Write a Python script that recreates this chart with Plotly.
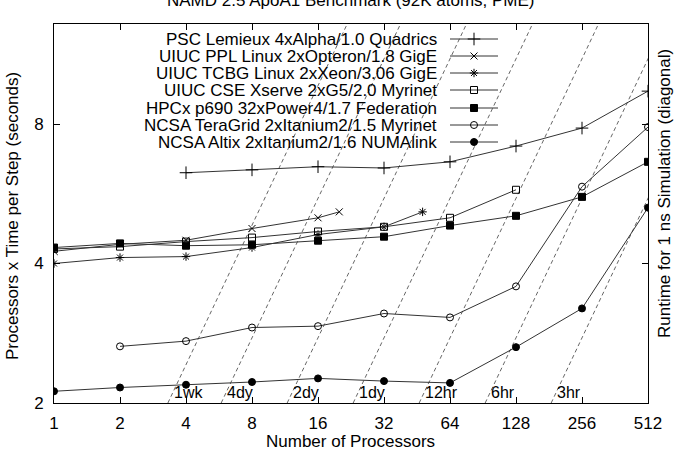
import math
import plotly.graph_objects as go

# ---------------- data ----------------
x_ticks = [1, 2, 4, 8, 16, 32, 64, 128, 256, 512]
y_ticks = [2, 4, 8]

names = [
    "PSC Lemieux 4xAlpha/1.0 Quadrics",
    "UIUC PPL Linux 2xOpteron/1.8 GigE",
    "UIUC TCBG Linux 2xXeon/3.06 GigE",
    "UIUC CSE Xserve 2xG5/2.0 Myrinet",
    "HPCx p690 32xPower4/1.7 Federation",
    "NCSA TeraGrid 2xItanium2/1.5 Myrinet",
    "NCSA Altix 2xItanium2/1.6 NUMAlink",
]

psc_p = [4, 8, 16, 32, 64, 128, 256, 512]
psc_v = [6.28, 6.37, 6.47, 6.43, 6.63, 7.17, 7.84, 9.42]

ppl_p = [1, 2, 4, 8, 16, 20]
ppl_v = [4.25, 4.40, 4.49, 4.76, 5.02, 5.17]

tcbg_p = [1, 2, 4, 8, 16, 32, 48]
tcbg_v = [4.00, 4.12, 4.14, 4.33, 4.62, 4.80, 5.17]

cse_p = [1, 2, 4, 8, 16, 32, 64, 128]
cse_v = [4.30, 4.35, 4.46, 4.55, 4.69, 4.80, 5.02, 5.77]

hpcx_p = [1, 2, 4, 8, 16, 32, 64, 128, 256, 512]
hpcx_v = [4.33, 4.42, 4.37, 4.39, 4.48, 4.57, 4.83, 5.07, 5.57, 6.63]

tg_p = [2, 4, 8, 16, 32, 64, 128, 256, 512]
tg_v = [2.65, 2.72, 2.91, 2.93, 3.12, 3.06, 3.57, 5.86, 7.88]

altix_p = [1, 2, 4, 8, 16, 32, 64, 128, 256, 512]
altix_v = [2.12, 2.16, 2.19, 2.22, 2.26, 2.23, 2.21, 2.64, 3.20, 5.28]

# diagonal runtime lines (runtime for 1 ns simulation, seconds)
diag_labels = ["1wk", "4dy", "2dy", "1dy", "12hr", "6hr", "3hr"]
diag_runtime_s = [604800, 345600, 172800, 86400, 43200, 21600, 10800]
steps_per_ns = 1_000_000

series = [
    (psc_p, psc_v, "cross-thin", 9, "black"),
    (ppl_p, ppl_v, "x-thin", 7, "black"),
    (tcbg_p, tcbg_v, "asterisk", 7, "black"),
    (cse_p, cse_v, "square-open", 7, "black"),
    (hpcx_p, hpcx_v, "square", 7, "black"),
    (tg_p, tg_v, "circle-open", 7, "black"),
    (altix_p, altix_v, "circle", 7, "black"),
]

FONT = "Liberation Sans, Arial, Helvetica, sans-serif"
LINE_COL = "#333333"

# plot-area geometry in pixels (used for decorations only)
PL, PR, PT, PB = 54, 648, 24, 403


def paper_x(px):
    return (px - PL) / (PR - PL)


def paper_y(py):
    return (PB - py) / (PB - PT)


fig = go.Figure()

# diagonal constant-runtime lines
y_lo, y_hi = 2.0, 14.0
for lab, T in zip(diag_labels, diag_runtime_s):
    p0 = y_lo * steps_per_ns / T
    p1 = y_hi * steps_per_ns / T
    fig.add_trace(go.Scatter(
        x=[p0, p1], y=[y_lo, y_hi], mode="lines",
        line=dict(color="#555555", width=0.9, dash="4px,3px"),
        showlegend=False, hoverinfo="skip"))
    fig.add_annotation(
        x=math.log10(p0), y=math.log10(2), xref="x", yref="y", text=lab,
        showarrow=False, xanchor="left", yanchor="middle", xshift=4, yshift=11,
        font=dict(family=FONT, size=16, color="black"))

# data series
for (px, pv, sym, sz, col) in series:
    fig.add_trace(go.Scatter(
        x=px, y=pv, mode="lines+markers",
        line=dict(color=LINE_COL, width=1),
        marker=dict(symbol=sym, size=sz, color=col,
                    line=dict(color=col, width=1)),
        showlegend=False, hoverinfo="skip"))

# custom legend (text right-aligned, sample to the right) on pixel overlay axes
leg_rows = [39, 56, 73, 90, 108, 125, 142]
for (px, pv, sym, sz, col), nm, ry in zip(series, names, leg_rows):
    fig.add_trace(go.Scatter(
        x=[450, 498], y=[ry, ry], mode="lines", xaxis="x2", yaxis="y2",
        line=dict(color=LINE_COL, width=1), showlegend=False, hoverinfo="skip"))
    fig.add_trace(go.Scatter(
        x=[474], y=[ry], mode="markers", xaxis="x2", yaxis="y2",
        marker=dict(symbol=sym, size=sz, color=col, line=dict(color=col, width=1)),
        showlegend=False, hoverinfo="skip"))
    fig.add_annotation(
        x=439, y=ry, xref="x2", yref="y2", text=nm, showarrow=False,
        xanchor="right", yanchor="middle",
        font=dict(family=FONT, size=17, color="black"))

# titles (paper coordinates)
fig.add_annotation(x=paper_x(351), y=paper_y(1), xref="paper", yref="paper",
                   text="NAMD 2.5 ApoA1 Benchmark (92K atoms, PME)",
                   showarrow=False, xanchor="center", yanchor="middle",
                   font=dict(family=FONT, size=17, color="black"))
fig.add_annotation(x=paper_x(350), y=paper_y(441), xref="paper", yref="paper",
                   text="Number of Processors", showarrow=False,
                   xanchor="center", yanchor="middle",
                   font=dict(family=FONT, size=17, color="black"))
fig.add_annotation(x=paper_x(12), y=paper_y(216), xref="paper", yref="paper",
                   text="Processors x Time per Step (seconds)", showarrow=False,
                   textangle=-90, xanchor="center", yanchor="middle",
                   font=dict(family=FONT, size=17, color="black"))
fig.add_annotation(x=paper_x(664), y=paper_y(194), xref="paper", yref="paper",
                   text="Runtime for 1 ns Simulation (diagonal)", showarrow=False,
                   textangle=-90, xanchor="center", yanchor="middle",
                   font=dict(family=FONT, size=17, color="black"))

axis_common = dict(showline=True, linecolor="black", linewidth=1, mirror="ticks",
                   ticks="inside", ticklen=6, tickcolor="black", tickwidth=1,
                   showgrid=False, zeroline=False,
                   tickfont=dict(family=FONT, size=17, color="black"))

fig.update_layout(
    width=676, height=460, autosize=False,
    margin=dict(l=PL, r=676 - PR, t=PT, b=460 - PB, pad=0),
    paper_bgcolor="white", plot_bgcolor="white",
    showlegend=False,
    xaxis=dict(type="log", range=[0, math.log10(512)], tickvals=x_ticks,
               ticktext=[str(v) for v in x_ticks], ticklabelstandoff=5,
               **axis_common),
    yaxis=dict(type="log", range=[math.log10(2), math.log10(13.15)], tickvals=y_ticks,
               ticktext=[str(v) for v in y_ticks], ticklabelstandoff=6,
               **axis_common),
    xaxis2=dict(overlaying="x", range=[PL, PR], visible=False, anchor="y2",
                fixedrange=True),
    yaxis2=dict(overlaying="y", range=[PB, PT], visible=False, anchor="x2",
                fixedrange=True),
)

fig.write_html("out.html")
